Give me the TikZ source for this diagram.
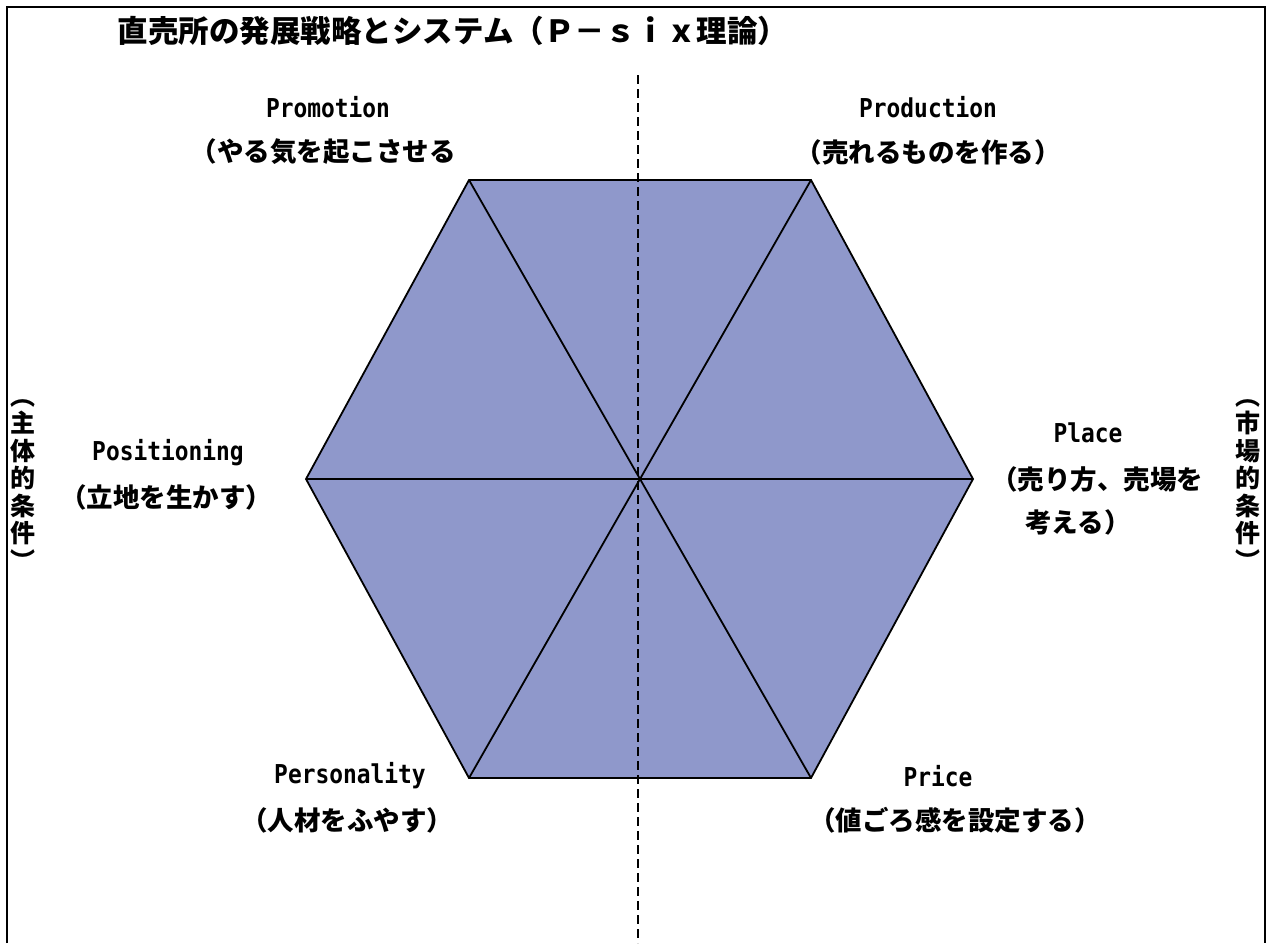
\documentclass[tikz,border=0pt]{standalone}
\usepackage{fontspec}
\newfontfamily\jp{Noto Sans CJK JP}
\newfontfamily\lat{DejaVu Sans Mono}[FakeStretch=0.88]
\definecolor{hexfill}{RGB}{143,152,203}
\tikzset{
  lbl/.style={inner sep=0pt, anchor=center, font=\jp\bfseries\fontsize{26.5}{28}\selectfont},
  latlbl/.style={inner sep=0pt, anchor=center, font=\lat\bfseries\fontsize{26}{28}\selectfont},
  vert/.style={inner sep=0pt, anchor=center, align=center, font=\jp\bfseries\fontsize{25}{27.5}\selectfont},
  edge/.style={draw=black, line width=1.8pt, line join=miter},
  axis/.style={draw=black, line width=1.3pt, dash pattern=on 9pt off 5pt},
  frame/.style={draw=black, line width=1.5pt}
}
\begin{document}
\begin{tikzpicture}[x=1pt,y=-1pt]
\useasboundingbox (0,0) rectangle (1271,943);
\fill[white] (0,0) rectangle (1271,943);
% frame
\coordinate (fbl) at (7,943);
\coordinate (ftl) at (7,7);
\coordinate (ftr) at (1265,7);
\coordinate (fbr) at (1265,943);
\draw[frame] (fbl) -- (ftl) -- (ftr) -- (fbr);
% title
\node[inner sep=0pt, font=\jp\bfseries\fontsize{30.5}{32}\selectfont] (title) at (453,31) {直売所の発展戦略とシステム（Ｐ－ｓｉｘ理論）};
% hexagon
\coordinate (c) at (638,479);
\coordinate (vtl) at (469,180);
\coordinate (vtr) at (811,180);
\coordinate (vr) at (973,479);
\coordinate (vbr) at (811,778);
\coordinate (vbl) at (469,778);
\coordinate (vl) at (306,479);
\fill[hexfill] (vtl) -- (vtr) -- (vr) -- (vbr) -- (vbl) -- (vl) -- cycle;
% dashed axis
\coordinate (atop) at (638,75);
\coordinate (abot) at (638,943);
\draw[axis] (atop) -- (abot);
\draw[edge] (vtl) -- (vtr) -- (vr) -- (vbr) -- (vbl) -- (vl) -- cycle;
\draw[edge] (vtl) -- (vbr);
\draw[edge] (vtr) -- (vbl);
\draw[edge] (vl) -- (vr);
% labels
\node[latlbl] (promo) at (328,107) {Promotion};
\node[lbl] (promoj) at (323,152) {（やる気を起こさせる};
\node[latlbl] (prod) at (928,107) {Production};
\node[lbl] (prodj) at (928,152) {（売れるものを作る）};
\node[latlbl] (posi) at (168,453) {Positioning};
\node[lbl] (posij) at (166,497) {（立地を生かす）};
\node[latlbl] (place) at (1088,433) {Place};
\node[lbl] (placej1) at (1097,479) {（売り方、売場を};
\node[lbl] (placej2) at (1078,522) {考える）};
\node[latlbl] (pers) at (350,776) {Personality};
\node[lbl] (persj) at (347,820) {（人材をふやす）};
\node[latlbl] (price) at (938,776) {Price};
\node[lbl] (pricej) at (955,820) {（値ごろ感を設定する）};
% side vertical labels
\node[vert] (left) at (23,485) {︵\\主\\体\\的\\条\\件\\︶};
\node[vert] (right) at (1248,485) {︵\\市\\場\\的\\条\\件\\︶};
\end{tikzpicture}
\end{document}
